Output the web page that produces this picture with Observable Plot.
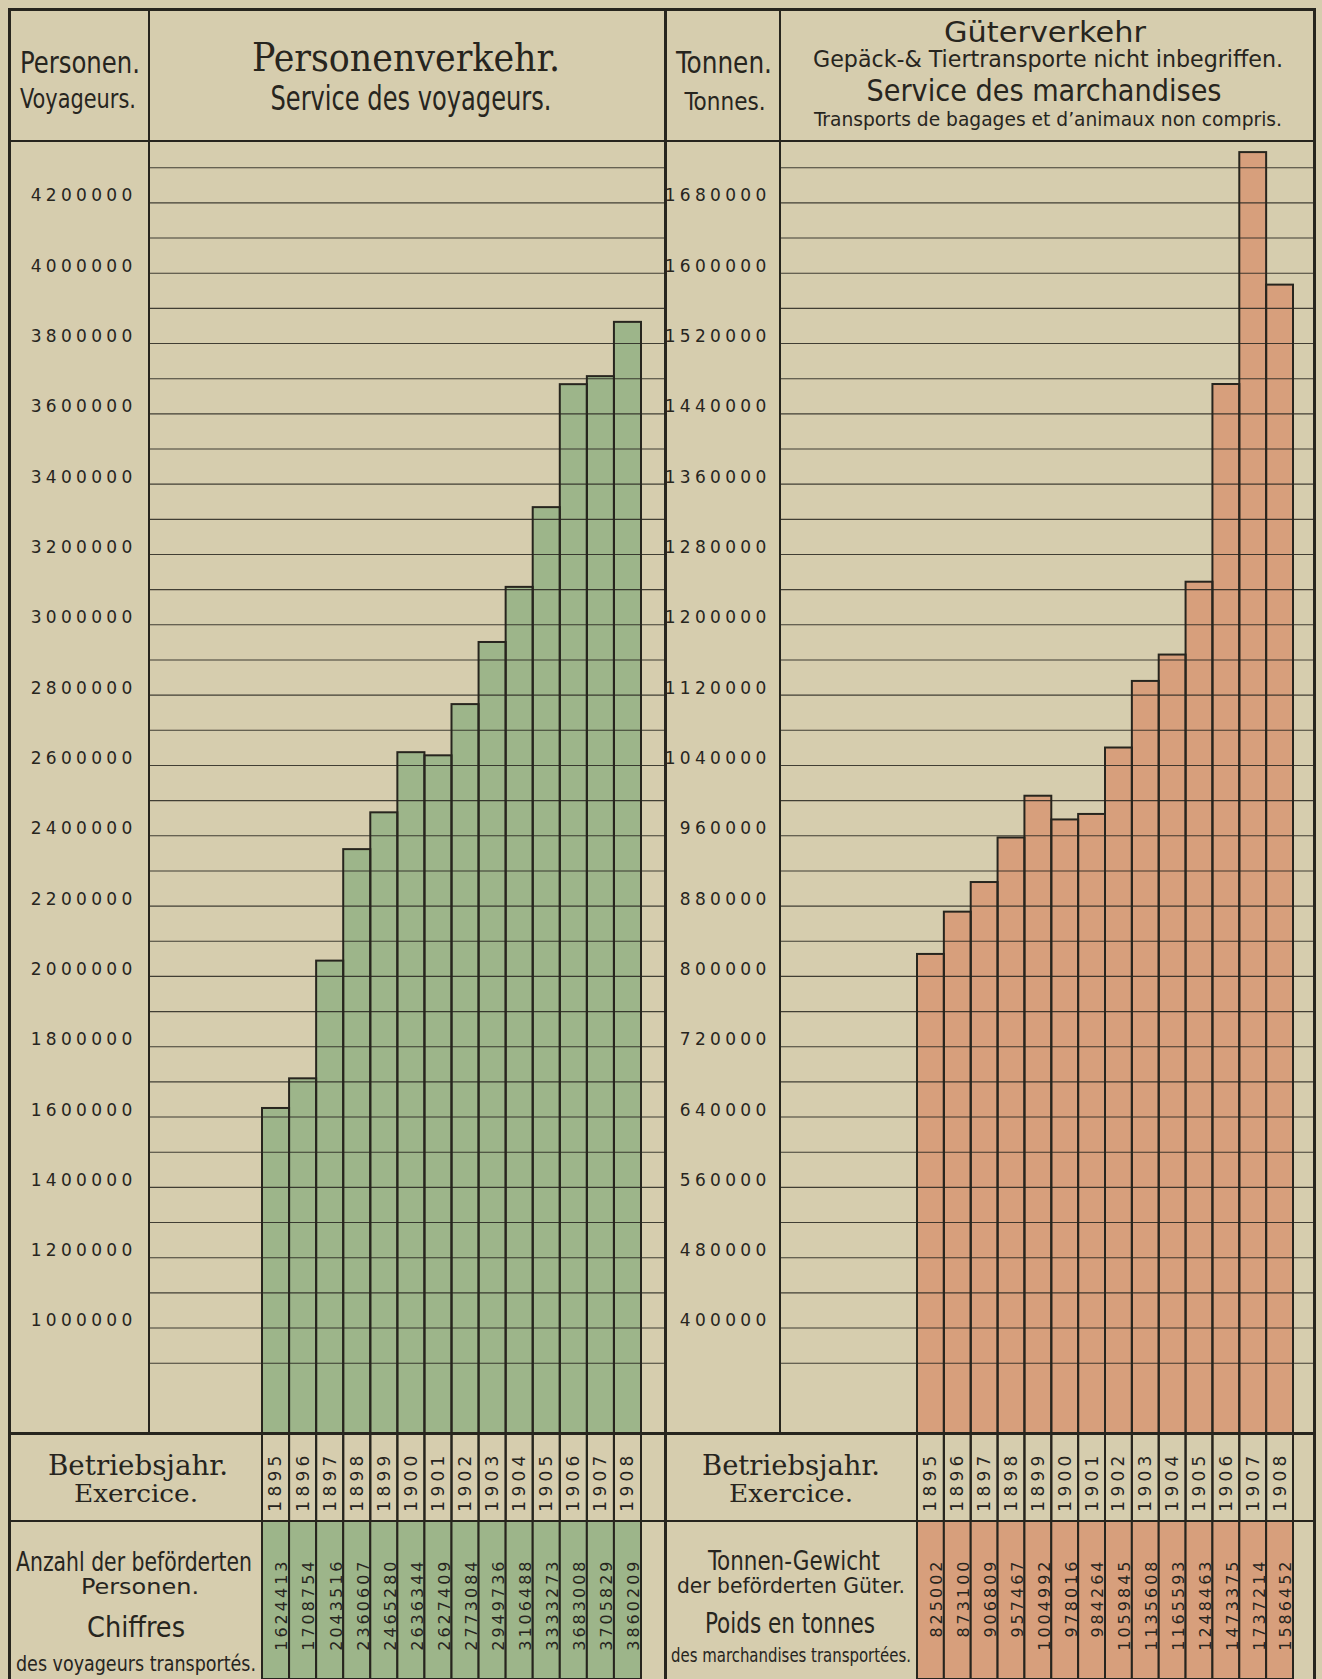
<!DOCTYPE html>
<html>
<head>
<meta charset="utf-8">
<script src="https://cdn.jsdelivr.net/npm/d3@7"></script>
<script src="https://cdn.jsdelivr.net/npm/@observablehq/plot@0.6"></script>
<style>
  html, body { margin: 0; padding: 0; background: #d6cdae; }
  #page { position: relative; width: 1322px; height: 1679px; overflow: hidden; background: #d6cdae; }
  #page svg.plot, #page > svg { position: absolute; }
  .frame { position: absolute; background: #27251e; }
</style>
</head>
<body>
<div id="page"></div>
<script>
// ---------------- data ----------------
const years = [1895, 1896, 1897, 1898, 1899, 1900, 1901, 1902, 1903, 1904, 1905, 1906, 1907, 1908];
const passengers = [1624413, 1708754, 2043516, 2360607, 2465280, 2636344, 2627409, 2773084, 2949736, 3106488, 3333273, 3683008, 3705829, 3860209];
const tonnes = [825002, 873100, 906809, 957467, 1004992, 978016, 984264, 1059845, 1135608, 1165593, 1248463, 1473375, 1737214, 1586452];
const passengerTicks = [1000000, 1200000, 1400000, 1600000, 1800000, 2000000, 2200000, 2400000, 2600000, 2800000, 3000000, 3200000, 3400000, 3600000, 3800000, 4000000, 4200000];
const tonneTicks = [400000, 480000, 560000, 640000, 720000, 800000, 880000, 960000, 1040000, 1120000, 1200000, 1280000, 1360000, 1440000, 1520000, 1600000, 1680000];

// ---------------- styling ----------------
const ink = "#27251e";
const green = "#9db58a";
const orange = "#d79f7c";
const page = document.getElementById("page");

const TOP = 141, BASE = 1433, ROWSPLIT = 1521, BOTTOM = 1679;

function panel(cfg) {
  const data = years.map((year, i) => ({year, value: cfg.values[i]}));
  const xScale = () => ({type: "band", domain: years, range: [cfg.barStart - cfg.left, cfg.barEnd - cfg.left], padding: 0, round: false, axis: null});
  const baseStyle = {background: "transparent", fontFamily: "'DejaVu Sans', sans-serif", color: ink, overflow: "visible"};

  // main bar chart
  const chart = Plot.plot({
    width: cfg.width,
    height: BASE - TOP,
    marginTop: 0, marginBottom: 0, marginRight: 0, marginLeft: cfg.labelW,
    x: xScale(),
    y: {domain: cfg.domain, range: [BASE - TOP, 0], axis: null},
    style: {...baseStyle, letterSpacing: "4.3px"},
    marks: [
      Plot.barY(data, {x: "year", y1: cfg.domain[0], y2: "value", fill: cfg.fill, inset: 0}),
      Plot.gridY(cfg.grid, {stroke: ink, strokeOpacity: 0.85, strokeWidth: 1.1}),
      Plot.barY(data, {x: "year", y1: cfg.domain[0], y2: "value", fill: "none", stroke: ink, strokeWidth: 2, inset: 0}),
      Plot.axisY(cfg.ticks, {anchor: "left", tickSize: 0, tickPadding: cfg.tickPad, tickFormat: d => String(d), fontSize: 17, fill: ink, dy: -7, label: null})
    ]
  });
  chart.style.left = cfg.left + "px";
  chart.style.top = TOP + "px";
  page.append(chart);

  // year row
  const yearRow = Plot.plot({
    width: cfg.width,
    height: ROWSPLIT - BASE,
    margin: 0,
    x: xScale(),
    style: {...baseStyle, letterSpacing: "4.3px"},
    marks: [
      Plot.cell(years, {x: d => d, fill: "none", stroke: ink, strokeWidth: 2, inset: 0}),
      Plot.text(years, {x: d => d, text: d => String(d), rotate: -90, fontSize: 17, fill: ink, frameAnchor: "middle", dy: 4})
    ]
  });
  yearRow.style.left = cfg.left + "px";
  yearRow.style.top = BASE + "px";
  page.append(yearRow);

  // values row
  const valueRow = Plot.plot({
    width: cfg.width,
    height: BOTTOM - ROWSPLIT,
    margin: 0,
    x: xScale(),
    style: {...baseStyle, letterSpacing: "3px"},
    marks: [
      Plot.cell(data, {x: "year", fill: cfg.fill, stroke: ink, strokeWidth: 2, inset: 0}),
      Plot.text(data, {x: "year", text: d => String(d.value), rotate: -90, fontSize: 16, fill: ink, frameAnchor: "top", textAnchor: "end", dy: 37})
    ]
  });
  valueRow.style.left = cfg.left + "px";
  valueRow.style.top = ROWSPLIT + "px";
  page.append(valueRow);
}

panel({
  values: passengers, ticks: passengerTicks,
  grid: d3.range(900000, 4300001, 100000),
  domain: [700000, 4374600],
  left: 9, width: 656, labelW: 140, tickPad: 13,
  barStart: 262, barEnd: 641, fill: green
});
panel({
  values: tonnes, ticks: tonneTicks,
  grid: d3.range(360000, 1720001, 40000),
  domain: [280000, 1749840],
  left: 665, width: 648, labelW: 115, tickPad: 10,
  barStart: 917, barEnd: 1293, fill: orange
});

// ---------------- table frame ----------------
function frame(x, y, w, h) {
  const d = document.createElement("div");
  d.className = "frame";
  d.style.left = x + "px"; d.style.top = y + "px";
  d.style.width = w + "px"; d.style.height = h + "px";
  page.append(d);
}
frame(8, 8, 1308, 3);          // top border
frame(8, 8, 3, 1671);          // left border
frame(1313, 8, 3, 1671);       // right border
frame(8, 140, 1308, 2);        // header bottom
frame(8, 1432, 1308, 2.5);     // chart baseline
frame(8, 1520, 1308, 2);       // year / value rows
frame(664, 8, 2.5, 1671);      // panel divider
frame(148.3, 8, 1.6, 1425);    // Personen column
frame(779.3, 8, 1.6, 1425);    // Tonnen column

// ---------------- header & row labels ----------------
const narrow = "'Liberation Sans Narrow', 'DejaVu Sans Condensed', 'Liberation Sans', sans-serif";
const serif = "'DejaVu Serif Condensed', 'DejaVu Serif', serif";
const labels = [
  {t: "Personen.", x: 80, y: 73, s: 31, w: 120, f: narrow},
  {t: "Voyageurs.", x: 78, y: 108, s: 27, w: 116, f: narrow},
  {t: "Personenverkehr.", x: 406, y: 71, s: 40, w: 308, f: serif},
  {t: "Service des voyageurs.", x: 411, y: 110, s: 33, w: 281, f: narrow},
  {t: "Tonnen.", x: 724, y: 73, s: 31, w: 96, f: narrow},
  {t: "Tonnes.", x: 725, y: 110, s: 24, w: 81, f: narrow},
  {t: "Güterverkehr", x: 1045, y: 42, s: 28, w: 202, f: "'DejaVu Sans', sans-serif"},
  {t: "Gepäck-& Tiertransporte nicht inbegriffen.", x: 1048, y: 67, s: 23, w: 470, f: narrow},
  {t: "Service des marchandises", x: 1044, y: 101, s: 30, w: 355, f: "'DejaVu Sans Condensed', sans-serif"},
  {t: "Transports de bagages et d’animaux non compris.", x: 1048, y: 126, s: 20, w: 468, f: narrow},

  {t: "Betriebsjahr.", x: 138, y: 1475, s: 27, w: 180, f: serif},
  {t: "Exercice.", x: 136, y: 1502, s: 25, w: 124, f: serif},
  {t: "Anzahl der beförderten", x: 134, y: 1571, s: 27, w: 236, f: narrow},
  {t: "Personen.", x: 140, y: 1594, s: 21, w: 118, f: narrow},
  {t: "Chiffres", x: 136, y: 1637, s: 29, w: 98, f: narrow},
  {t: "des voyageurs transportés.", x: 136, y: 1671, s: 22, w: 240, f: narrow},

  {t: "Betriebsjahr.", x: 791, y: 1475, s: 27, w: 178, f: serif},
  {t: "Exercice.", x: 791, y: 1502, s: 25, w: 124, f: serif},
  {t: "Tonnen-Gewicht", x: 794, y: 1570, s: 26, w: 172, f: narrow},
  {t: "der beförderten Güter.", x: 791, y: 1593, s: 22, w: 228, f: narrow},
  {t: "Poids en tonnes", x: 790, y: 1633, s: 28, w: 170, f: narrow},
  {t: "des marchandises transportées.", x: 791, y: 1662, s: 20, w: 240, f: narrow}
];
const overlay = d3.create("svg")
  .attr("width", 1322).attr("height", 1679)
  .style("left", "0px").style("top", "0px").style("pointer-events", "none");
overlay.selectAll("text").data(labels).join("text")
  .attr("x", d => d.x).attr("y", d => d.y)
  .attr("text-anchor", "middle")
  .attr("font-family", d => d.f)
  .attr("font-size", d => d.s)
  .attr("fill", ink)
  .attr("textLength", d => d.w)
  .attr("lengthAdjust", "spacingAndGlyphs")
  .text(d => d.t);
page.append(overlay.node());
</script>
</body>
</html>
